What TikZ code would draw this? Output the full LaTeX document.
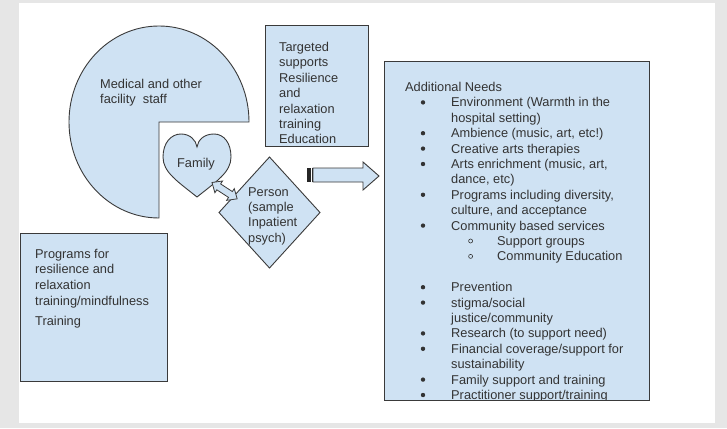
\documentclass[tikz,border=0pt]{standalone}
\usepackage{fontspec}
\setmainfont{Liberation Sans}
\definecolor{fillblue}{HTML}{CFE2F3}
\definecolor{edge}{HTML}{3A3A3A}
\definecolor{txt}{HTML}{333333}
\definecolor{framegray}{HTML}{E6E6E6}
\begin{document}
\begin{tikzpicture}[x=1pt,y=-1pt,
  shapebox/.style={fill=fillblue,draw=edge,line width=0.9pt,line join=miter},
  lbl/.style={anchor=base west,inner sep=0pt,text=txt,font=\fontsize{12.8}{15.4}\selectfont},
  bul/.style={fill=txt,draw=none},
  subbul/.style={draw=txt,line width=0.6pt,fill=none},
  stripe/.style={fill=black!85,draw=none}]
\useasboundingbox (0,0) rectangle (727,428);
\fill[framegray] (0,0) rectangle (727,428);
\fill[white] (19,3) rectangle (715,423);

% pie shape (staff)
\draw[shapebox] (159,122) -- (249,122) arc[start angle=0,end angle=270,x radius=90pt,y radius=96pt] -- cycle;
\node[lbl] (staff1) at (100,88.5) {Medical and other};
\node[lbl] (staff2) at (100,103.5) {facility\ \ staff};

% targeted supports box
\draw[shapebox] (265.5,25) rectangle (368.5,146);
\node[lbl] (t1) at (279,51.5) {Targeted};
\node[lbl] (t2) at (279,66.9) {supports};
\node[lbl] (t3) at (279,82.3) {Resilience};
\node[lbl] (t4) at (279,97.7) {and};
\node[lbl] (t5) at (279,113.1) {relaxation};
\node[lbl] (t6) at (279,128.5) {training};
\node[lbl] (t7) at (279,143.9) {Education};

% heart (family)
\draw[shapebox] (197,197) .. controls (177,181) and (163,172) .. (163,157)
  .. controls (163,143) and (171,134) .. (181,134)
  .. controls (190,134) and (196,140) .. (197,147)
  .. controls (198,140) and (204,134) .. (214,134)
  .. controls (224,134) and (231,143) .. (231,157)
  .. controls (231,172) and (217,181) .. (197,197) -- cycle;
\node[lbl,anchor=base] (family) at (196,167.5) {Family};

% diamond (person)
\draw[shapebox] (269.5,157) -- (320,212.5) -- (269.5,268) -- (219,212.5) -- cycle;
\node[lbl] (p1) at (248,196.5) {Person};
\node[lbl] (p2) at (248,211.5) {(sample};
\node[lbl] (p3) at (248,226.5) {Inpatient};
\node[lbl] (p4) at (248,242.5) {psych)};

% double arrow between family and person
\begin{scope}[shift={(212,182.5)},rotate=-33]
\draw[shapebox,line width=0.8pt] (0,0) -- (8,-7) -- (8,-3.5) -- (22,-3.5) -- (22,-7) -- (30,0)
  -- (22,7) -- (22,3.5) -- (8,3.5) -- (8,7) -- cycle;
\end{scope}

% striped block arrow
\fill[stripe] (307,168) rectangle (310.5,182);
\fill[stripe] (311.8,168) rectangle (313,182);
\draw[shapebox] (313,168) -- (363,168) -- (363,162) -- (379,176) -- (363,190) -- (363,182) -- (313,182) -- cycle;

% programs box
\draw[shapebox] (20,233) rectangle (167,381);
\node[lbl] (g1) at (35,258.5) {Programs for};
\node[lbl] (g2) at (35,273.5) {resilience and};
\node[lbl] (g3) at (35,289.5) {relaxation};
\node[lbl] (g4) at (35,305.5) {training/mindfulness};
\node[lbl] (g5) at (35,325.5) {Training};

% additional needs box
\fill[fillblue] (384,61) rectangle (649,400);
\begin{scope}
\clip (384,61) rectangle (649,400.5);
\node[lbl] (a0) at (405,91.5) {Additional Needs};
\node[lbl] (a1) at (451,106.9) {Environment (Warmth in the};
\node[lbl] (a2) at (451,122.3) {hospital setting)};
\node[lbl] (a3) at (451,137.7) {Ambience (music, art, etc!)};
\node[lbl] (a4) at (451,153.1) {Creative arts therapies};
\node[lbl] (a5) at (451,168.5) {Arts enrichment (music, art,};
\node[lbl] (a6) at (451,183.9) {dance, etc)};
\node[lbl] (a7) at (451,199.3) {Programs including diversity,};
\node[lbl] (a8) at (451,214.7) {culture, and acceptance};
\node[lbl] (a9) at (451,230.1) {Community based services};
\node[lbl] (a10) at (497,245.5) {Support groups};
\node[lbl] (a11) at (497,260.9) {Community Education};
\node[lbl] (a13) at (451,291.7) {Prevention};
\node[lbl] (a14) at (451,307.1) {stigma/social};
\node[lbl] (a15) at (451,322.5) {justice/community};
\node[lbl] (a16) at (451,337.9) {Research (to support need)};
\node[lbl] (a17) at (451,353.3) {Financial coverage/support for};
\node[lbl] (a18) at (451,368.7) {sustainability};
\node[lbl] (a19) at (451,384.1) {Family support and training};
\node[lbl] (a20) at (451,399.5) {Practitioner support/training};
\foreach \yy in {102.4,133.2,148.6,164,194.8,225.6,287.2,302.6,333.4,348.8,379.6,395}
  \fill[bul] (423,\yy) circle[radius=2.2pt];
\foreach \yy in {241,256.4}
  \draw[subbul] (470.6,\yy) circle[radius=2pt];
\end{scope}
\draw[edge,line width=0.9pt] (384,61) rectangle (649,400);
\end{tikzpicture}
\end{document}
